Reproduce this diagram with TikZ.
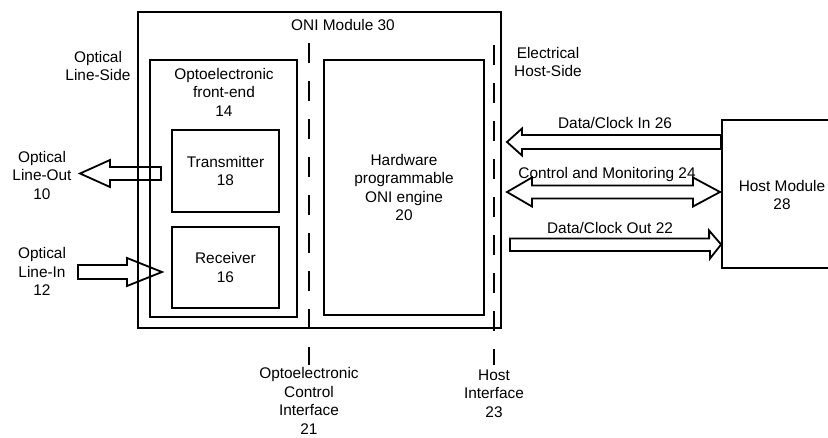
\documentclass[tikz,border=0pt]{standalone}
\usepackage{fontspec}
\setmainfont{Liberation Sans}
\usetikzlibrary{positioning}

\begin{document}
\begin{tikzpicture}[
 x=1pt, y=-1pt,
 box/.style={rectangle, draw, line width=1.8pt, inner sep=0pt},
 txt/.style={inner sep=0pt, align=center, font=\fontsize{15.4}{18.5}\selectfont},
 blk/.style={draw, line width=1.8pt, line join=miter, miter limit=20},
 iface/.style={line width=1.8pt, dash pattern=on 20pt off 18pt},
]
\useasboundingbox (0,0) rectangle (828,437);
\clip (0,0) rectangle (828,437);

% Boxes
\node[box, minimum width=363pt, minimum height=316pt] (oni) at (319.5,170) {};
\node[txt] (onilbl) at (343,25) {ONI Module 30};
\node[box, minimum width=147pt, minimum height=257pt] (front) at (223.5,188.5) {};
\node[txt] (frontlbl) at (224,92) {Optoelectronic\\front-end\\14};
\node[box, minimum width=107pt, minimum height=82pt, txt] (tx) at (225.5,171) {Transmitter\\18};
\node[box, minimum width=107pt, minimum height=81pt, txt] (rx) at (225.5,267.5) {Receiver\\16};
\node[box, minimum width=160pt, minimum height=255pt, txt] (engine) at (404,187.5) {Hardware\\programmable\\ONI engine\\20};
\node[box, minimum width=150pt, minimum height=148pt] (host) at (797,194) {};
\node[txt] (hostlbl) at (782,195) {Host Module\\28};

% Side labels
\node[txt] (optside) at (98,66) {Optical\\Line-Side};
\node[txt] (elecside) at (548,62) {Electrical\\Host-Side};
\node[txt] (lineout) at (42,175) {Optical\\Line-Out\\10};
\node[txt] (linein) at (42,271.5) {Optical\\Line-In\\12};
\node[txt] (ocilbl) at (309,401) {Optoelectronic\\Control\\Interface\\21};
\node[txt] (hilbl) at (494,393.5) {Host\\Interface\\23};

% Interfaces
\draw[iface] (309,43) -- (309,365);
\draw[iface] (494,45) -- (494,365);

% Optical arrows
\coordinate (lotip) at (80,173.5);
\draw[blk] (lotip) -- ++(30,-13.5) -- ++(0,7) -- ++(51,0) -- ++(0,13) -- ++(-51,0) -- ++(0,7) -- cycle;
\coordinate (litip) at (162,272);
\draw[blk] (litip) -- ++(-35,-14) -- ++(0,7) -- ++(-49,0) -- ++(0,14) -- ++(49,0) -- ++(0,7) -- cycle;

% Host arrows
\coordinate (dcintip) at (507,142);
\draw[blk] (dcintip) -- ++(15,-13.5) -- ++(0,6.5) -- (host.west |- 0,135) -- (host.west |- 0,149) -- (522,149) -- (522,155.5) -- cycle;
\node[txt] (dcinlbl) at (615,123) {Data/Clock In 26};

\coordinate (cmltip) at (507,192);
\coordinate (cmrtip) at (720,192);
\draw[blk] (cmltip) -- ++(25,-14.5) -- ++(0,8) -- (693,185.5) -- (693,177.5) -- (cmrtip) -- (693,206.5) -- (693,198.5) -- (532,198.5) -- (532,206.5) -- cycle;
\node[txt] (cmlbl) at (607,175) {Control and Monitoring 24};

\coordinate (dcouttip) at (host.west |- 0,244.5);
\draw[blk] (dcouttip) -- ++(-12,-14) -- ++(0,8) -- (510,238.5) -- (510,251) -- (710,251) -- (710,258.5) -- cycle;
\node[txt] (dcoutlbl) at (610,228) {Data/Clock Out 22};

\end{tikzpicture}
\end{document}
